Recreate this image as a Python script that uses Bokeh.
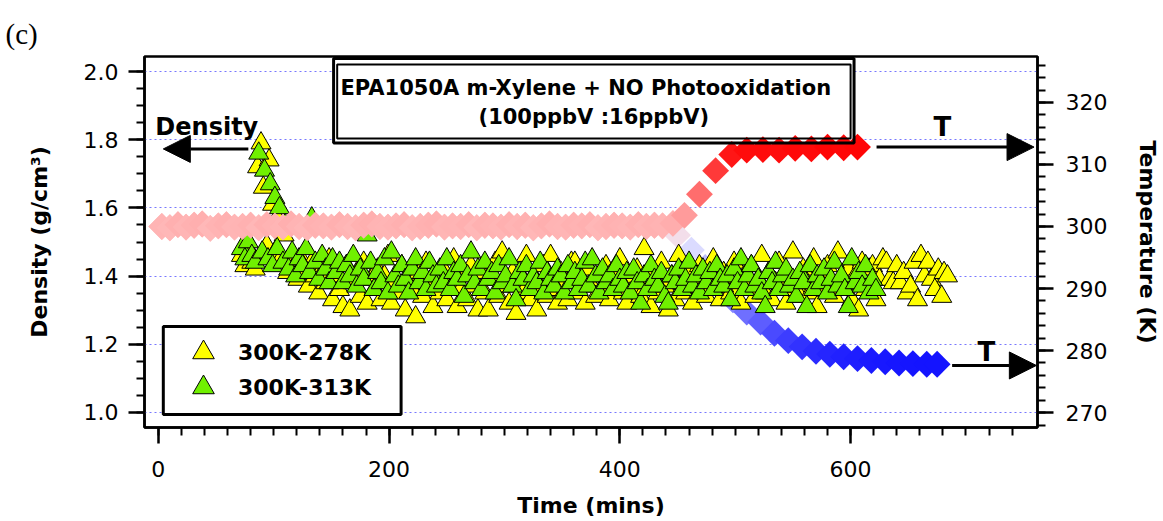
import numpy as np
from bokeh.plotting import figure
from bokeh.models import (Range1d, LinearAxis, FixedTicker, Arrow, NormalHead, Label, Title,
                          BoxAnnotation, Legend, LegendItem, PrintfTickFormatter)
from bokeh.embed import file_html
from bokeh.resources import INLINE

# ---- particle density (g/cm3) vs time (min) ----
# 300K-313K run
hot_time = [72, 75, 78, 81, 84, 87, 90, 92, 95, 97,
            99, 101, 103, 105, 108, 110, 113, 116, 119, 122,
            125, 128, 131, 133, 136, 139, 142, 145, 148, 151,
            154, 157, 160, 163, 166, 169, 172, 175, 178, 181,
            184, 187, 190, 193, 196, 199, 202, 205, 208, 211,
            214, 217, 220, 223, 226, 229, 232, 235, 238, 241,
            244, 247, 250, 253, 256, 259, 262, 265, 268, 271,
            274, 277, 280, 283, 286, 289, 292, 295, 298, 301,
            304, 307, 310, 313, 316, 319, 322, 325, 328, 331,
            334, 337, 340, 343, 346, 349, 352, 355, 358, 361,
            364, 367, 370, 373, 376, 379, 382, 385, 388, 391,
            394, 397, 400, 403, 406, 409, 412, 415, 418, 421,
            424, 427, 430, 433, 436, 439, 442, 445, 448, 451,
            454, 457, 460, 463, 466, 469, 472, 475, 478, 481,
            484, 487, 490, 493, 496, 499, 502, 505, 508, 511,
            514, 517, 520, 523, 526, 529, 532, 535, 538, 541,
            544, 547, 550, 553, 556, 559, 562, 565, 568, 571,
            574, 577, 580, 583, 586, 589, 592, 595, 598, 601,
            604, 607, 610, 613, 616, 619, 622]
hot_density = [1.48, 1.45, 1.50, 1.46, 1.44, 1.76, 1.47, 1.71, 1.45, 1.67,
               1.43, 1.63, 1.48, 1.60, 1.44, 1.55, 1.42, 1.47, 1.40, 1.45,
               1.43, 1.48, 1.41, 1.57, 1.44, 1.39, 1.46, 1.42, 1.38, 1.45,
               1.41, 1.44, 1.38, 1.43, 1.40, 1.46, 1.37, 1.42, 1.39, 1.52,
               1.44, 1.36, 1.41, 1.38, 1.45, 1.35, 1.47, 1.40, 1.37, 1.43,
               1.39, 1.35, 1.42, 1.45, 1.38, 1.41, 1.36, 1.44, 1.40, 1.37,
               1.42, 1.38, 1.45, 1.36, 1.41, 1.39, 1.43, 1.34, 1.40, 1.47,
               1.38, 1.42, 1.36, 1.44, 1.39, 1.41, 1.35, 1.43, 1.38, 1.40,
               1.45, 1.37, 1.33, 1.41, 1.39, 1.43, 1.36, 1.40, 1.38, 1.44,
               1.35, 1.41, 1.39, 1.37, 1.42, 1.40, 1.35, 1.43, 1.38, 1.41,
               1.36, 1.39, 1.44, 1.37, 1.45, 1.40, 1.35, 1.42, 1.38, 1.40,
               1.36, 1.43, 1.39, 1.37, 1.41, 1.35, 1.42, 1.38, 1.32, 1.40,
               1.36, 1.43, 1.39, 1.37, 1.41, 1.34, 1.32, 1.40, 1.38, 1.42,
               1.36, 1.39, 1.44, 1.37, 1.40, 1.35, 1.42, 1.38, 1.41, 1.36,
               1.43, 1.39, 1.37, 1.40, 1.33, 1.42, 1.38, 1.45, 1.36, 1.40,
               1.43, 1.37, 1.39, 1.35, 1.31, 1.41, 1.38, 1.44, 1.36, 1.40,
               1.42, 1.37, 1.39, 1.34, 1.41, 1.38, 1.31, 1.43, 1.36, 1.40,
               1.38, 1.42, 1.35, 1.39, 1.44, 1.37, 1.40, 1.36, 1.31, 1.45,
               1.38, 1.41, 1.37, 1.43, 1.35, 1.39, 1.36]

# 300K-278K run
cold_time = [72, 75, 78, 81, 84, 86, 89, 91, 94, 96,
             99, 101, 103, 106, 109, 112, 115, 118, 121, 124,
             127, 130, 133, 136, 139, 142, 145, 148, 151, 154,
             157, 160, 163, 166, 169, 172, 175, 178, 181, 184,
             187, 190, 193, 196, 199, 202, 205, 208, 211, 214,
             217, 220, 223, 226, 229, 232, 235, 238, 241, 244,
             247, 250, 253, 256, 259, 262, 265, 268, 271, 274,
             277, 280, 283, 286, 289, 292, 295, 298, 301, 304,
             307, 310, 313, 316, 319, 322, 325, 328, 331, 334,
             337, 340, 343, 346, 349, 352, 355, 358, 361, 364,
             367, 370, 373, 376, 379, 382, 385, 388, 391, 394,
             397, 400, 403, 406, 409, 412, 415, 418, 421, 424,
             427, 430, 433, 436, 439, 442, 445, 448, 451, 454,
             457, 460, 463, 466, 469, 472, 475, 478, 481, 484,
             487, 490, 493, 496, 499, 502, 505, 508, 511, 514,
             517, 520, 523, 526, 529, 532, 535, 538, 541, 544,
             547, 550, 553, 556, 559, 562, 565, 568, 571, 574,
             577, 580, 583, 586, 589, 592, 595, 598, 601, 604,
             607, 610, 613, 616, 619, 622, 625, 628, 631, 634,
             637, 640, 643, 646, 649, 652, 655, 658, 661, 664,
             667, 670, 673, 676, 679, 681, 684]
cold_density = [1.46, 1.43, 1.48, 1.44, 1.42, 1.72, 1.79, 1.66, 1.49, 1.74,
                1.61, 1.47, 1.57, 1.45, 1.52, 1.41, 1.46, 1.43, 1.39, 1.45,
                1.41, 1.37, 1.44, 1.40, 1.35, 1.42, 1.38, 1.45, 1.33, 1.40,
                1.36, 1.31, 1.43, 1.30, 1.38, 1.41, 1.34, 1.44, 1.32, 1.39,
                1.36, 1.42, 1.33, 1.40, 1.46, 1.32, 1.38, 1.35, 1.43, 1.30,
                1.39, 1.36, 1.28, 1.41, 1.34, 1.44, 1.37, 1.31, 1.40, 1.35,
                1.42, 1.33, 1.38, 1.45, 1.31, 1.36, 1.40, 1.33, 1.43, 1.37,
                1.30, 1.41, 1.35, 1.30, 1.39, 1.44, 1.34, 1.47, 1.37, 1.32,
                1.41, 1.29, 1.38, 1.35, 1.46, 1.33, 1.40, 1.30, 1.37, 1.43,
                1.34, 1.46, 1.36, 1.32, 1.41, 1.38, 1.33, 1.44, 1.44, 1.35,
                1.39, 1.32, 1.42, 1.37, 1.34, 1.40, 1.36, 1.43, 1.33, 1.38,
                1.41, 1.45, 1.35, 1.32, 1.39, 1.36, 1.42, 1.34, 1.48, 1.38,
                1.31, 1.41, 1.35, 1.44, 1.37, 1.30, 1.40, 1.33, 1.46, 1.38,
                1.35, 1.41, 1.32, 1.39, 1.43, 1.36, 1.34, 1.40, 1.45, 1.37,
                1.33, 1.41, 1.38, 1.35, 1.44, 1.36, 1.32, 1.40, 1.37, 1.43,
                1.34, 1.39, 1.46, 1.35, 1.41, 1.33, 1.38, 1.44, 1.36, 1.32,
                1.40, 1.47, 1.37, 1.34, 1.42, 1.38, 1.35, 1.45, 1.31, 1.40,
                1.36, 1.43, 1.38, 1.34, 1.47, 1.39, 1.36, 1.42, 1.33, 1.40,
                1.30, 1.44, 1.36, 1.42, 1.43, 1.33, 1.39, 1.45, 1.44, 1.39,
                1.38, 1.43, 1.38, 1.41, 1.35, 1.37, 1.44, 1.33, 1.46, 1.40,
                1.44, 1.39, 1.36, 1.42, 1.34, 1.41, 1.40]

# ---- chamber temperature (K) vs time (min) ----
flat_time = [3, 10, 17, 24, 31, 38, 45, 52, 59, 66,
             73, 80, 87, 94, 101, 108, 115, 122, 129, 136,
             143, 150, 157, 164, 171, 178, 185, 192, 199, 206,
             213, 220, 227, 234, 241, 248, 255, 262, 269, 276,
             283, 290, 297, 304, 311, 318, 325, 332, 339, 346,
             353, 360, 367, 374, 381, 388, 395, 402, 409, 416,
             423, 430, 437]
flat_temp = [300.0, 299.8, 300.3, 299.9, 300.2, 300.4, 299.7, 300.1, 300.3, 299.9,
             300.0, 300.2, 299.8, 300.3, 300.1, 299.9, 300.4, 300.0, 299.8, 300.2,
             300.1, 299.9, 300.3, 300.0, 299.8, 300.2, 300.4, 300.0, 299.9, 300.1,
             300.3, 299.8, 300.0, 300.2, 300.4, 299.9, 300.1, 300.0, 300.3, 299.8,
             300.2, 300.1, 299.9, 300.3, 300.0, 300.2, 299.8, 300.1, 300.4, 300.0,
             299.9, 300.2, 300.1, 300.3, 299.8, 300.0, 300.2, 300.1, 299.9, 300.3,
             300.0, 300.2, 300.1]

heat_time = flat_time + [446, 456, 469, 483, 497, 510, 524, 538, 552, 566, 580, 594, 606]
heat_temp = flat_temp + [300.5, 301.8, 305.2, 309.0, 311.6, 312.3, 312.4, 312.3, 312.6,
                         312.5, 312.8, 312.7, 312.8]

cool_time = flat_time + [450, 462, 474, 486, 498, 510, 522, 534, 546, 558,
                         570, 582, 594, 606, 618, 630, 642, 654, 666, 675]
cool_temp = flat_temp + [298.6, 296.2, 293.4, 290.6, 288.2, 286.2, 284.6, 282.8, 281.6, 280.6,
                         279.9, 279.4, 279.0, 278.7, 278.4, 278.2, 278.0, 277.9, 277.8, 277.8]


def blend(values, stops):
    """Map temperatures onto a piecewise-linear colour scale."""
    ts = [s[0] for s in stops]
    chans = list(zip(*[s[1] for s in stops]))
    out = []
    for v in values:
        r, g, b = (int(round(float(np.interp(v, ts, c)))) for c in chans)
        out.append(f"#{r:02x}{g:02x}{b:02x}")
    return out


heat_colors = blend(heat_temp, [(294.5, (255, 255, 255)), (313.2, (255, 0, 0))])
cool_colors = blend(cool_temp, [(277.8, (20, 20, 255)), (298.0, (238, 238, 255)),
                                (300.0, (255, 185, 185))])

FONT = "DejaVu Sans"

p = figure(width=1163, height=521, output_backend="svg", toolbar_location=None,
           x_range=Range1d(-12, 762), y_range=Range1d(0.956, 2.044),
           min_border_left=144, min_border_right=125, min_border_top=56, min_border_bottom=94,
           background_fill_color="white", border_fill_color="white")
p.extra_y_ranges = {"temp": Range1d(267.6, 327.4)}

p.outline_line_color = "black"
p.outline_line_width = 2.5
p.outline_line_alpha = 1.0

# axes
xaxis = p.below[0]
yaxis = p.left[0]
raxis = LinearAxis(y_range_name="temp")
p.add_layout(raxis, "right")

xaxis.ticker = FixedTicker(ticks=[0, 200, 400, 600], minor_ticks=list(range(0, 741, 20)))
yticks = [1.0, 1.2, 1.4, 1.6, 1.8, 2.0]
yaxis.ticker = FixedTicker(ticks=yticks, minor_ticks=[round(1.0 + 0.05 * i, 2) for i in range(21)])
raxis.ticker = FixedTicker(ticks=[270, 280, 290, 300, 310, 320], minor_ticks=list(range(268, 327, 2)))
yaxis.formatter = PrintfTickFormatter(format="%.1f")

for ax in (xaxis, yaxis, raxis):
    ax.axis_line_color = "black"
    ax.axis_line_width = 2.5
    ax.major_tick_in = 0
    ax.major_tick_out = 16
    ax.minor_tick_in = 0
    ax.minor_tick_out = 8
    ax.major_tick_line_width = 2.5
    ax.minor_tick_line_width = 2
    ax.major_tick_line_color = "black"
    ax.minor_tick_line_color = "black"
    ax.major_label_text_font = FONT
    ax.major_label_text_font_size = "22px"
    ax.major_label_text_color = "black"
    ax.axis_label_text_font = FONT
    ax.axis_label_text_font_style = "bold"
    ax.axis_label_text_font_size = "22px"
    ax.axis_label_text_color = "black"

xaxis.axis_label = "Time (mins)"
yaxis.axis_label = "Density (g/cm\u00b3)"
raxis.axis_label = "Temperature (K)"
xaxis.major_label_standoff = 17
yaxis.major_label_standoff = 10
raxis.major_label_standoff = 12
xaxis.axis_label_standoff = 13
yaxis.axis_label_standoff = 29
raxis.axis_label_standoff = 25

p.xgrid.visible = False
p.ygrid.ticker = FixedTicker(ticks=yticks)
p.ygrid.grid_line_color = "#7878ff"
p.ygrid.grid_line_alpha = 1.0
p.ygrid.grid_line_width = 1
p.ygrid.grid_line_dash = "2 3"

p.add_layout(Title(text="(c)", align="left", offset=-139, standoff=10, vertical_align="top",
                   text_font="Liberation Serif", text_font_style="normal",
                   text_font_size="29px", text_color="black"), "above")

# title box: white fill beneath the data, double frame above it
box_fill = BoxAnnotation(left=151.9, right=603.0, bottom=1.790, top=2.038,
                         fill_color="white", fill_alpha=1.0, line_color=None, level="underlay")
p.add_layout(box_fill)

# temperature traces and density points
p.scatter(cool_time, cool_temp, y_range_name="temp", marker="square", angle=np.pi / 4,
          size=19, fill_color=cool_colors, line_color=None)
r_yellow = p.scatter(cold_time, cold_density, marker="triangle", size=20,
                     fill_color="#ffff00", line_color="black", line_width=1)
r_green = p.scatter(hot_time, hot_density, marker="triangle", size=20,
                    fill_color="#70f000", line_color="black", line_width=1)
p.scatter(heat_time, heat_temp, y_range_name="temp", marker="square", angle=np.pi / 4,
          size=19, fill_color=heat_colors, line_color=None)

box_outer = BoxAnnotation(left=151.9, right=603.0, bottom=1.790, top=2.038,
                          fill_alpha=0, line_color="black", line_alpha=1.0, line_width=3,
                          level="overlay")
box_inner = BoxAnnotation(left=155.0, right=600.0, bottom=1.8035, top=2.0205,
                          fill_alpha=0, line_color="black", line_alpha=1.0, line_width=2,
                          level="overlay")
p.add_layout(box_outer)
p.add_layout(box_inner)

for txt, xx, yy in (("EPA1050A m-Xylene + NO Photooxidation", 370.5, 1.953),
                    ("(100ppbV :16ppbV)", 377.5, 1.868)):
    p.add_layout(Label(x=xx, y=yy, text=txt, text_align="center", text_baseline="alphabetic",
                       text_font=FONT, text_font_style="bold", text_font_size="21px",
                       text_color="black"))

# pointer arrows to the axes
head = dict(size=27, fill_color="black", line_color="black", line_width=1)
p.add_layout(Arrow(end=NormalHead(**head), x_start=78, y_start=1.773, x_end=4.3, y_end=1.773,
                   line_width=3, line_color="black"))
p.add_layout(Arrow(end=NormalHead(**head), x_start=622.5, y_start=312.8, x_end=759, y_end=312.8,
                   y_range_name="temp", line_width=3, line_color="black"))
p.add_layout(Arrow(end=NormalHead(**head), x_start=688, y_start=277.6, x_end=761, y_end=277.6,
                   y_range_name="temp", line_width=3, line_color="black"))

p.add_layout(Label(x=-2.6, y=1.838, text="Density", text_align="left", text_baseline="alphabetic",
                   text_font=FONT, text_font_style="bold", text_font_size="24px", text_color="black"))
p.add_layout(Label(x=679.6, y=316.1, y_range_name="temp", text="T", text_align="center",
                   text_baseline="alphabetic", text_font=FONT, text_font_style="bold",
                   text_font_size="26px", text_color="black"))
p.add_layout(Label(x=717.7, y=279.7, y_range_name="temp", text="T", text_align="center",
                   text_baseline="alphabetic", text_font=FONT, text_font_style="bold",
                   text_font_size="26px", text_color="black"))

# legend: framed white panel with one entry per run
legend_frame = BoxAnnotation(left=4.3, right=210.4, bottom=0.994, top=1.252,
                             fill_color="white", fill_alpha=1.0,
                             line_color="black", line_alpha=1.0, line_width=3)
p.add_layout(legend_frame)

legend_style = dict(padding=0, spacing=0, margin=0, glyph_width=54, glyph_height=54,
                    label_standoff=8, label_text_font=FONT, label_text_font_style="bold",
                    label_text_font_size="22px", label_text_color="black",
                    border_line_color=None, background_fill_alpha=0.0)
p.add_layout(Legend(items=[LegendItem(label="300K-278K", renderers=[r_yellow])],
                    location=(32, 48), **legend_style))
p.add_layout(Legend(items=[LegendItem(label="300K-313K", renderers=[r_green])],
                    location=(32, 13), **legend_style))

open("out.html", "w").write(file_html(p, INLINE))
